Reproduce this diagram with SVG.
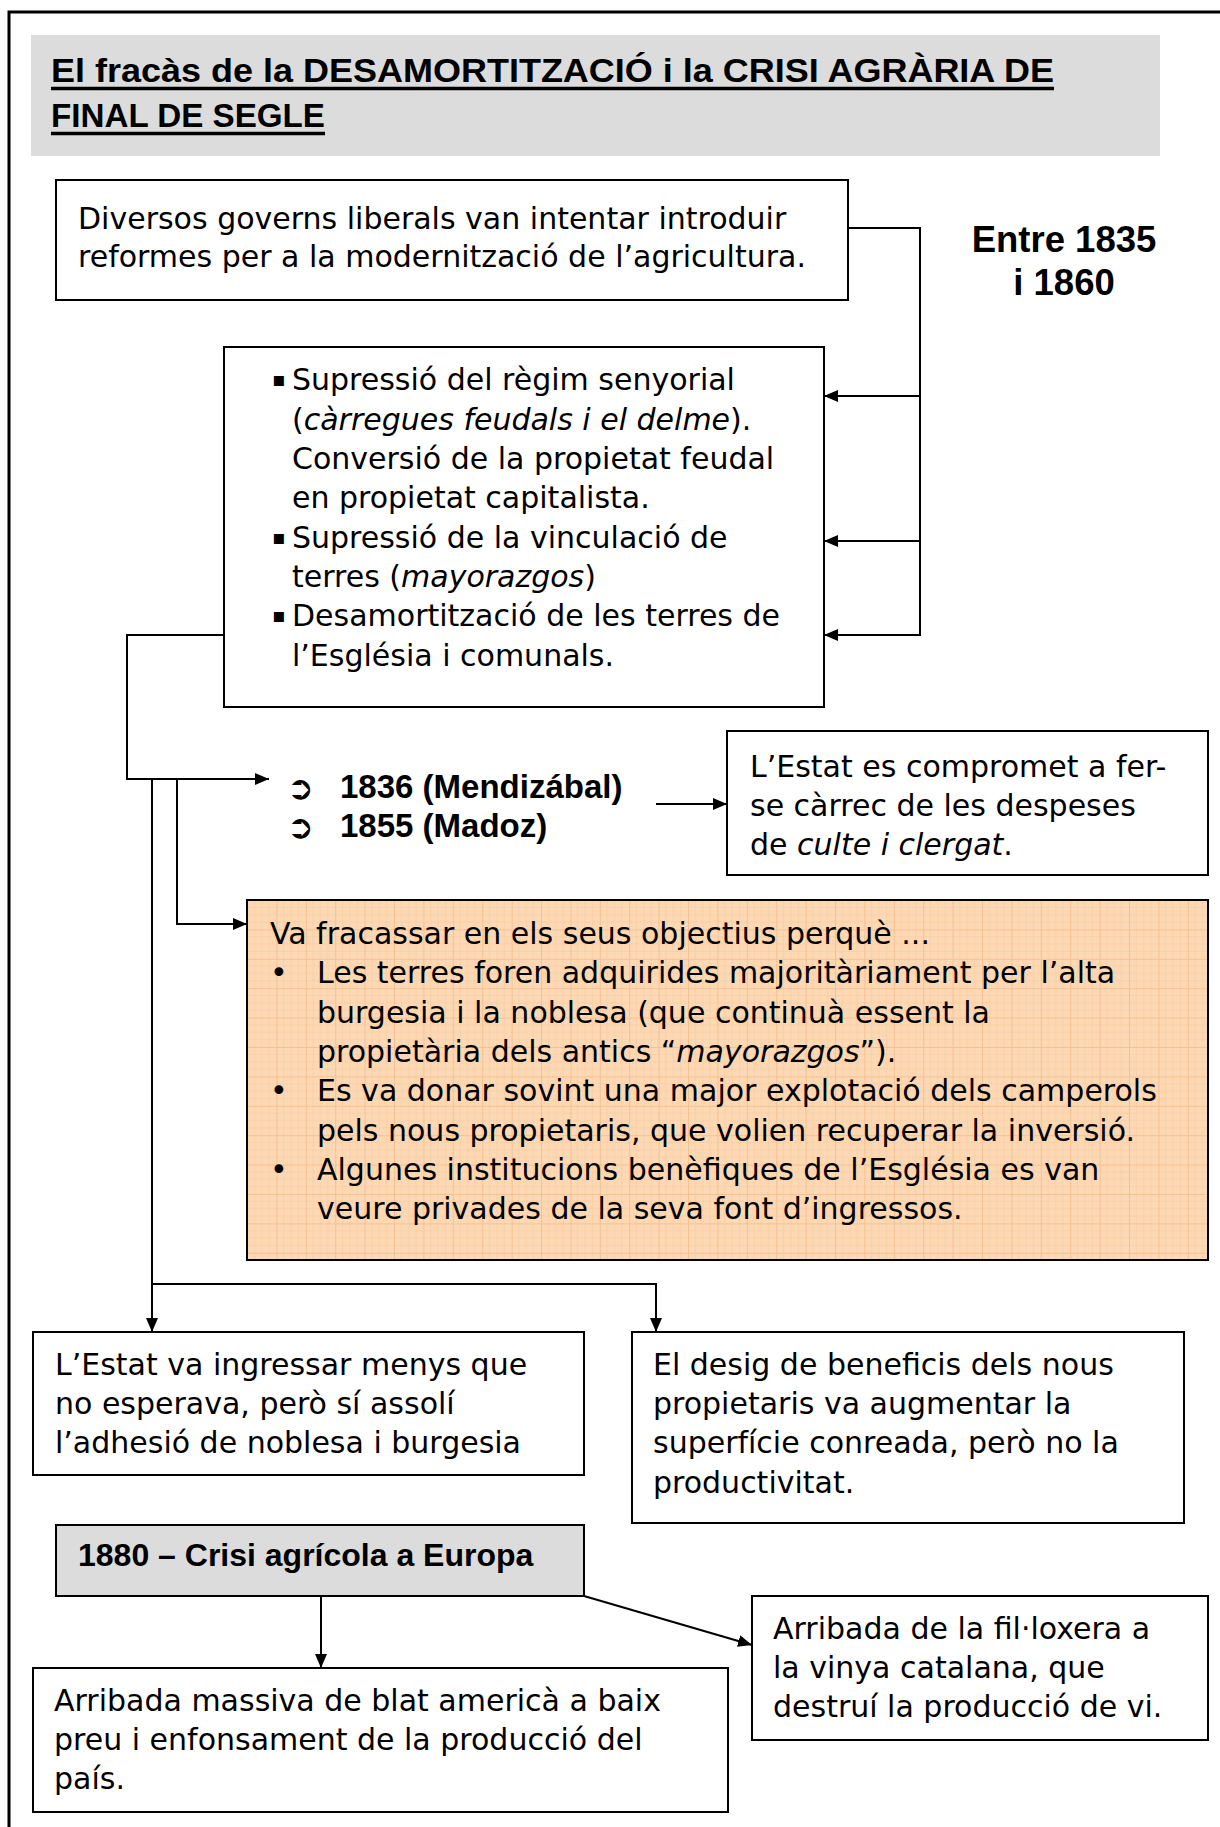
<svg xmlns="http://www.w3.org/2000/svg" width="1220" height="1827" viewBox="0 0 1220 1827">
<style>
.box{fill:#ffffff;stroke:#000;stroke-width:2}
.gray{fill:#dcdcdc;stroke:#000;stroke-width:2}
.t{font-family:"DejaVu Sans",sans-serif;font-size:30px;fill:#000}
.b{font-family:"Liberation Sans",Arial,sans-serif;font-weight:bold;font-size:33px;fill:#000}
.i{font-style:italic}
.sq{font-family:"DejaVu Sans",sans-serif;font-size:20px;fill:#000}
.sym{font-family:"DejaVu Sans",sans-serif;font-weight:bold;font-size:32px;fill:#000}
.con{fill:none;stroke:#000;stroke-width:2}
.arr{marker-end:url(#ah)}
</style>
<defs>
<marker id="ah" markerUnits="userSpaceOnUse" markerWidth="14" markerHeight="12" refX="14" refY="6" orient="auto">
<path d="M0,0 L14,6 L0,12 z" fill="#000"/>
</marker>
<pattern id="grid" patternUnits="userSpaceOnUse" x="247" y="900" width="29.4" height="29.4">
<rect width="29.4" height="29.4" fill="#fcd8b4"/>
<path d="M7.35,0V29.4M14.7,0V29.4M22.05,0V29.4M0,7.35H29.4M0,14.7H29.4M0,22.05H29.4" stroke="#fad0a6" stroke-width="1"/>
<path d="M0.5,0V29.4M0,0.5H29.4" stroke="#f6c190" stroke-width="1"/>
</pattern>
</defs>
<rect width="1220" height="1827" fill="#ffffff"/>
<path d="M9,1827 V12 H1220" fill="none" stroke="#000" stroke-width="3"/>

<g id="title">
<rect x="31" y="35" width="1129" height="121" fill="#dcdcdc"/>
<text class="b" x="51" y="82" style="font-size:34px" textLength="1003" lengthAdjust="spacingAndGlyphs">El fracàs de la DESAMORTITZACIÓ i la CRISI AGRÀRIA DE</text>
<text class="b" x="51" y="127" style="font-size:34px" textLength="274" lengthAdjust="spacingAndGlyphs">FINAL DE SEGLE</text>
<path d="M51,88.5 H1054 M51,133.5 H325" stroke="#000" stroke-width="3.3"/>
</g>

<g id="period">
<text class="b" x="1064" y="252" style="font-size:36.5px" text-anchor="middle">Entre 1835</text>
<text class="b" x="1064" y="295" style="font-size:36.5px" text-anchor="middle">i 1860</text>
</g>

<g id="connectors">
<path class="con arr" d="M848,228 H920 V635 H824"/>
<path class="con arr" d="M920,396 H824"/>
<path class="con arr" d="M920,541 H824"/>
<path class="con arr" d="M224,635 H127 V779 H269"/>
<path class="con arr" d="M152,779 V1332"/>
<path class="con arr" d="M177,779 V924 H247"/>
<path class="con arr" d="M152,1284 H656 V1332"/>
<path class="con arr" d="M656,804 H727"/>
<path class="con arr" d="M321,1596 V1668"/>
<path class="con arr" d="M584,1596 L752,1645"/>
</g>

<g id="n-reformes">
<rect class="box" x="56" y="180" width="792" height="120"/>
<text class="t" x="78" y="229">Diversos governs liberals van intentar introduir</text>
<text class="t" x="78" y="267">reformes per a la modernització de l’agricultura.</text>
</g>

<g id="n-mesures">
<rect class="box" x="224" y="347" width="600" height="360"/>
<text class="sq" x="272" y="386">▪</text>
<text class="t" x="292" y="390">Supressió del règim senyorial</text>
<text class="t" x="292" y="429.5">(<tspan class="i">càrregues feudals i el delme</tspan>).</text>
<text class="t" x="292" y="469">Conversió de la propietat feudal</text>
<text class="t" x="292" y="508">en propietat capitalista.</text>
<text class="sq" x="272" y="543.5">▪</text>
<text class="t" x="292" y="547.5">Supressió de la vinculació de</text>
<text class="t" x="292" y="587">terres (<tspan class="i">mayorazgos</tspan>)</text>
<text class="sq" x="272" y="622">▪</text>
<text class="t" x="292" y="626">Desamortització de les terres de</text>
<text class="t" x="292" y="665.5">l’Església i comunals.</text>
</g>

<g id="n-lleis">
<text class="sym" x="287" y="799">➲</text>
<text class="b" x="340" y="798">1836 (Mendizábal)</text>
<text class="sym" x="287" y="838">➲</text>
<text class="b" x="340" y="837">1855 (Madoz)</text>
</g>

<g id="n-estat-culte">
<rect class="box" x="727" y="731" width="481" height="144"/>
<text class="t" x="750" y="777">L’Estat es compromet a fer-</text>
<text class="t" x="750" y="816">se càrrec de les despeses</text>
<text class="t" x="750" y="855">de <tspan class="i">culte i clergat</tspan>.</text>
</g>

<g id="n-fracas">
<rect x="247" y="900" width="961" height="360" fill="url(#grid)" stroke="#000" stroke-width="2"/>
<text class="t" x="270" y="944">Va fracassar en els seus objectius perquè ...</text>
<text class="t" x="270" y="983">•</text>
<text class="t" x="317" y="983">Les terres foren adquirides majoritàriament per l’alta</text>
<text class="t" x="317" y="1022.5">burgesia i la noblesa (que continuà essent la</text>
<text class="t" x="317" y="1062">propietària dels antics “<tspan class="i">mayorazgos</tspan>”).</text>
<text class="t" x="270" y="1101">•</text>
<text class="t" x="317" y="1101">Es va donar sovint una major explotació dels camperols</text>
<text class="t" x="317" y="1140.5">pels nous propietaris, que volien recuperar la inversió.</text>
<text class="t" x="270" y="1180">•</text>
<text class="t" x="317" y="1180">Algunes institucions benèfiques de l’Església es van</text>
<text class="t" x="317" y="1219">veure privades de la seva font d’ingressos.</text>
</g>

<g id="n-ingressos">
<rect class="box" x="33" y="1332" width="551" height="143"/>
<text class="t" x="55" y="1375">L’Estat va ingressar menys que</text>
<text class="t" x="55" y="1414">no esperava, però sí assolí</text>
<text class="t" x="55" y="1453">l’adhesió de noblesa i burgesia</text>
</g>

<g id="n-beneficis">
<rect class="box" x="632" y="1332" width="552" height="191"/>
<text class="t" x="653" y="1375">El desig de beneficis dels nous</text>
<text class="t" x="653" y="1414">propietaris va augmentar la</text>
<text class="t" x="653" y="1453">superfície conreada, però no la</text>
<text class="t" x="653" y="1493">productivitat.</text>
</g>

<g id="n-crisi">
<rect class="gray" x="56" y="1525" width="528" height="71"/>
<text class="b" x="78" y="1566" style="font-size:32px">1880 – Crisi agrícola a Europa</text>
</g>

<g id="n-blat">
<rect class="box" x="33" y="1668" width="695" height="144"/>
<text class="t" x="54" y="1711">Arribada massiva de blat americà a baix</text>
<text class="t" x="54" y="1750">preu i enfonsament de la producció del</text>
<text class="t" x="54" y="1789">país.</text>
</g>

<g id="n-filloxera">
<rect class="box" x="752" y="1596" width="456" height="144"/>
<text class="t" x="773" y="1639">Arribada de la fil·loxera a</text>
<text class="t" x="773" y="1678">la vinya catalana, que</text>
<text class="t" x="773" y="1717">destruí la producció de vi.</text>
</g>
</svg>
